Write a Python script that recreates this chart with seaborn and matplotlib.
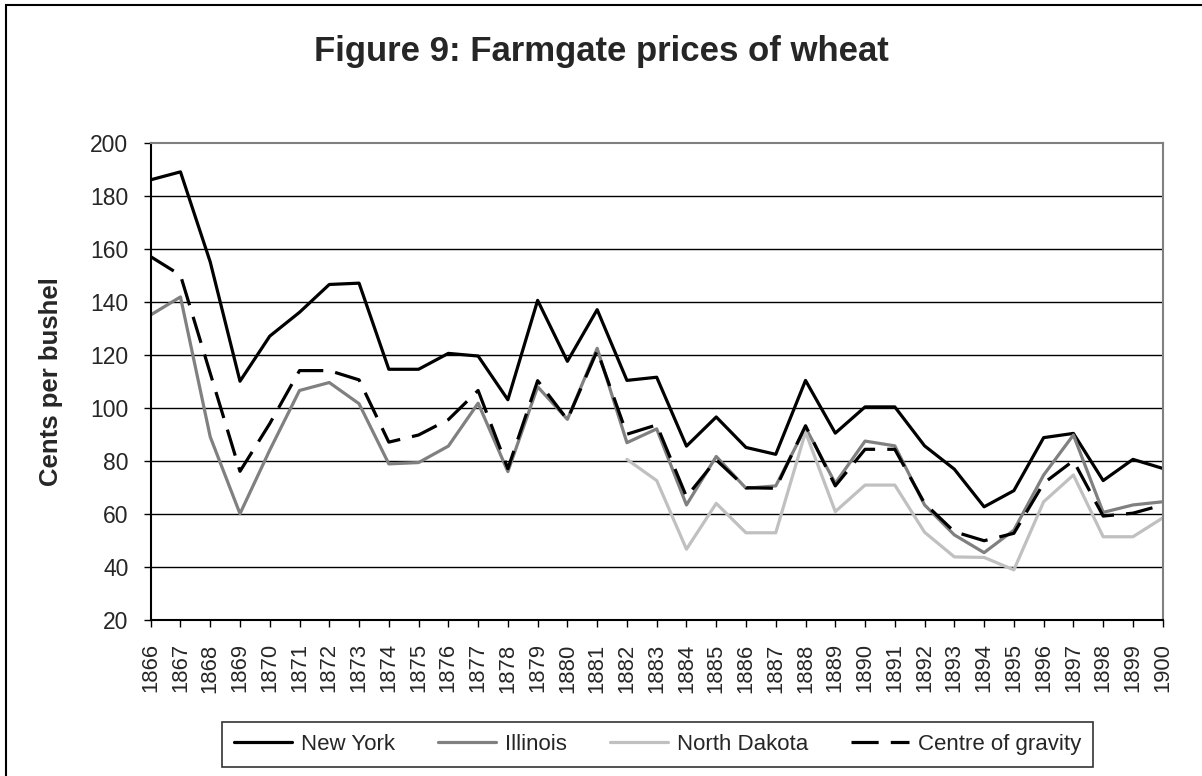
import matplotlib
matplotlib.use("Agg")
import matplotlib.pyplot as plt
import numpy as np
import pandas as pd
import seaborn as sns
from matplotlib.patches import Rectangle

# Data (cents per bushel)
years = list(range(1866, 1901))

new_york = [186, 189, 155, 110, 127, 136, 146.5, 147, 114.5, 114.5, 120.5, 119.5,
            103, 140.5, 117.5, 137, 110.3, 111.5, 85.5, 96.5, 85, 82.4, 110.3, 90.4,
            100.3, 100.3, 85.6, 76.8, 62.6, 68.7, 88.7, 90.3, 72.5, 80.5, 77.1]

illinois = [135, 141.8, 89, 60, 84, 106.5, 109.5, 101.5, 78.8, 79.3, 85.5, 101.7,
            75.9, 107.9, 95.6, 122.4, 86.8, 92, 63.3, 81.6, 69.6, 70.5, 92.5, 71.5,
            87.4, 85.6, 63.3, 52, 45.3, 53.8, 74.6, 89.7, 60.5, 63.3, 64.5]

north_dakota = [np.nan] * 16 + [80.5, 72.5, 46.6, 63.9, 52.8, 52.8, 90.8, 60.8,
                                70.8, 70.8, 53, 43.7, 43.5, 38.8, 64.5, 74.6, 51.3,
                                51.3, 58.4]

centre = [157, 150, 113, 76, 94, 114, 114, 110.5, 87, 89.7, 95.5, 106.5,
          77, 110.2, 95.5, 121.5, 90, 93.5, 66.4, 80.3, 69.8, 69.6, 93.2, 70.5,
          84.3, 84.3, 63.9, 53.2, 49.8, 52.6, 71.5, 80, 59.1, 60.2, 63.3]

series_names = ["New York", "Illinois", "North Dakota", "Centre of gravity"]
series_colors = {"New York": "#000000", "Illinois": "#808080",
                 "North Dakota": "#c0c0c0", "Centre of gravity": "#000000"}
series_dashes = {"New York": "", "Illinois": "", "North Dakota": "",
                 "Centre of gravity": (8.5, 3.8)}

df = pd.DataFrame({"year": years, "New York": new_york, "Illinois": illinois,
                   "North Dakota": north_dakota, "Centre of gravity": centre})
long = df.melt(id_vars="year", var_name="series", value_name="price").dropna()

sns.set_style("white")
plt.rcParams["font.family"] = ["Liberation Sans", "DejaVu Sans"]

W, H = 1202, 776
fig = plt.figure(figsize=(W / 100, H / 100), dpi=100)
ax = fig.add_axes([150.7 / W, 1 - 619.7 / H, 1012 / W, 477 / H])

sns.lineplot(data=long, x="year", y="price", hue="series", style="series",
             hue_order=series_names, style_order=series_names,
             palette=series_colors, dashes=series_dashes, linewidth=2.3,
             ax=ax, legend=True)

ax.set_xlim(1866, 1900)
ax.set_ylim(20, 200)
ax.set_xticks(years)
ax.set_xticklabels([str(y) for y in years], rotation=90, fontsize=15.8)
ax.set_yticks(range(20, 201, 20))
ax.tick_params(axis="y", labelsize=16.5, length=5, width=1, color="black",
               direction="out", left=True, pad=11)
ax.tick_params(axis="x", length=5, width=1, color="black", direction="out",
               bottom=True, pad=12)
ax.set_xlabel("")
ax.set_ylabel("Cents per bushel", fontsize=18.5, fontweight="bold",
              ha="center", va="center")
ax.yaxis.set_label_coords((51 - 150.7) / 1012, 0.5)

for v in range(40, 200, 20):
    ax.axhline(v, color="black", linewidth=1, zorder=0)

for side in ["left", "bottom"]:
    ax.spines[side].set_color("black")
    ax.spines[side].set_linewidth(1.5)
for side in ["top", "right"]:
    ax.spines[side].set_color("#808080")
    ax.spines[side].set_linewidth(1.5)

fig.text(601 / W, 1 - 52 / H, "Figure 9: Farmgate prices of wheat",
         ha="center", va="center", fontsize=25, fontweight="bold")

handles, labels = ax.get_legend_handles_labels()
ax.get_legend().remove()
leg = fig.legend(handles, labels, loc="center", ncol=4,
                 bbox_to_anchor=(657.5 / W, 1 - 744.5 / H), fontsize=16,
                 frameon=True, fancybox=False, edgecolor="black",
                 handlelength=2.6, columnspacing=1.95, handletextpad=0.4,
                 borderpad=0.55, borderaxespad=0)
leg.get_frame().set_linewidth(1.2)

fig.patches.append(Rectangle((6 / W, -0.05), 1.2, 1.05 - 5 / H,
                             transform=fig.transFigure, fill=False,
                             edgecolor="black", linewidth=1.5))

fig.savefig("out.png", dpi=100)
